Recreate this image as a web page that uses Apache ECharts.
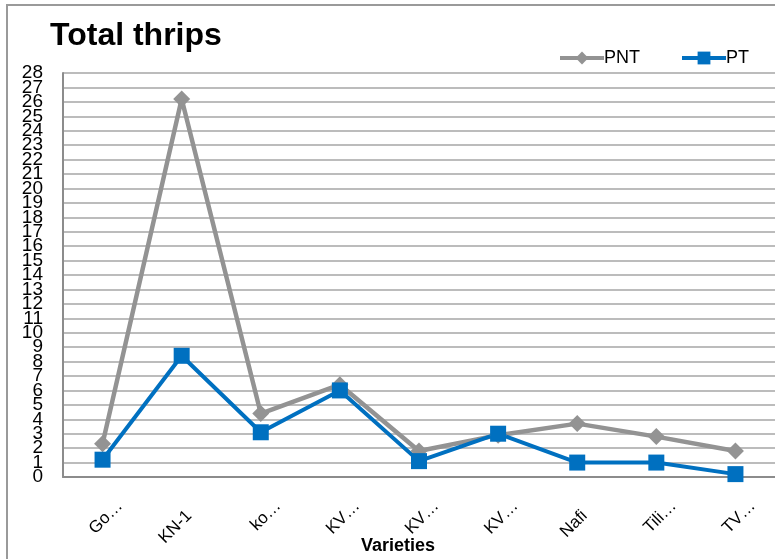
<!DOCTYPE html>
<html>
<head>
<meta charset="utf-8">
<title>Total thrips</title>
<script src="https://cdn.jsdelivr.net/npm/echarts@6/dist/echarts.min.js"></script>
<style>
  html, body { margin: 0; padding: 0; background: #fff; }
  #chart { width: 775px; height: 559px; }
</style>
</head>
<body>
<div id="chart"></div>
<script>
// varieties (labels are truncated in the original chart)
const varieties = ['Go…', 'KN-1', 'ko…', 'KV…', 'KV…', 'KV…', 'Nafi', 'Tili…', 'TV…']
// thrips counts
const pntValues = [2.3, 26.2, 4.4, 6.4, 1.8, 2.9, 3.7, 2.8, 1.8]
const ptValues = [1.2, 8.4, 3.1, 6.0, 1.1, 3.0, 1.0, 1.0, 0.2]
// y range and step
const yMin = 0
const yMax = 28
const yStep = 1

const pntColor = '#939393'
const ptColor = '#0070c0'
const labelFont = 'Liberation Sans'

const chart = echarts.init(document.getElementById('chart'))

const yLabelStyle = {
  margin: 20,
  fontFamily: labelFont,
  fontSize: 19,
  color: '#000'
}

const option = {
  animation: false,
  title: [
    {
      text: 'Total thrips',
      left: 45,
      top: 15,
      textStyle: {
        fontFamily: labelFont,
        fontSize: 32,
        fontWeight: 'bold',
        color: '#000'
      }
    },
    {
      text: 'Varieties',
      left: 356,
      top: 532,
      textStyle: {
        fontFamily: labelFont,
        fontSize: 18,
        fontWeight: 'bold',
        color: '#000'
      }
    }
  ],
  legend: {
    left: 553,
    top: 44,
    itemWidth: 44,
    itemHeight: 16,
    itemGap: 40,
    textStyle: {
      fontFamily: labelFont,
      fontSize: 18,
      color: '#000',
      padding: [0, 0, 0, -5]
    },
    data: [
      { name: 'PNT', itemStyle: { color: pntColor }, lineStyle: { color: pntColor, width: 4 } },
      { name: 'PT', itemStyle: { color: ptColor }, lineStyle: { color: ptColor, width: 4 } }
    ]
  },
  grid: {
    left: 63,
    top: 73,
    width: 720,
    height: 404
  },
  xAxis: {
    type: 'category',
    data: varieties,
    boundaryGap: true,
    axisLine: { lineStyle: { color: '#8c8c8c', width: 2 } },
    axisTick: { show: false },
    axisLabel: {
      rotate: 45,
      margin: 9,
      verticalAlign: 'top',
      padding: [16, 0, 0, 0],
      fontFamily: labelFont,
      fontSize: 17,
      color: '#000',
      // names that were not cut short sit a bit further back along the slant
      formatter: (val) => val.endsWith('…') ? '{cut|' + val + '}' : '{full|' + val + '}',
      rich: {
        cut: { fontFamily: labelFont, fontSize: 17, color: '#000' },
        full: { fontFamily: labelFont, fontSize: 17, color: '#000', padding: [0, 14, 0, 0] }
      }
    }
  },
  yAxis: [
    {
      type: 'value',
      min: yMin,
      max: yMax,
      interval: yStep,
      axisLine: { show: true, lineStyle: { color: '#8c8c8c', width: 2 } },
      axisTick: { show: false },
      axisLabel: Object.assign({ showMinLabel: false, showMaxLabel: false }, yLabelStyle),
      splitLine: { lineStyle: { color: '#a6a6a6', width: 1.5 } }
    },
    {
      // second copy of the scale that only carries the end labels (0 and 28),
      // the first one drops them because the labels overlap
      type: 'value',
      position: 'left',
      min: yMin,
      max: yMax,
      interval: yStep,
      axisLine: { show: false },
      axisTick: { show: false },
      splitLine: { show: false },
      axisLabel: Object.assign({
        showMinLabel: true,
        showMaxLabel: true,
        formatter: (v) => (v === yMin || v === yMax) ? String(v) : ''
      }, yLabelStyle)
    }
  ],
  series: [
    {
      name: 'PNT',
      type: 'line',
      data: pntValues,
      symbol: 'diamond',
      symbolSize: 17,
      lineStyle: { color: pntColor, width: 4.5 },
      itemStyle: { color: pntColor }
    },
    {
      name: 'PT',
      type: 'line',
      data: ptValues,
      symbol: 'rect',
      symbolSize: 16,
      lineStyle: { color: ptColor, width: 4 },
      itemStyle: { color: ptColor }
    }
  ],
  graphic: [
    {
      type: 'rect',
      shape: { x: 7, y: 5, width: 800, height: 600 },
      style: { fill: 'none', stroke: '#9a9a9a', lineWidth: 2 },
      z: -1
    }
  ]
}

chart.setOption(option)
</script>
</body>
</html>
